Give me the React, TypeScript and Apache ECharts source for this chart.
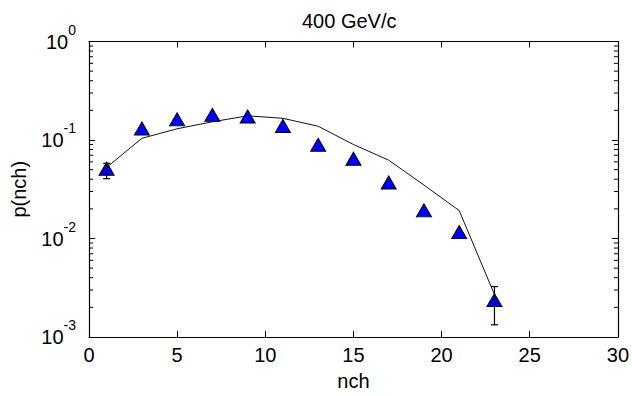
import React, { useEffect, useRef } from "react";
import * as echarts from "echarts";

const nch = [1, 3, 5, 7, 9, 11, 13, 15, 17, 19, 21, 23];
const pData = [0.051, 0.131, 0.162, 0.18, 0.173, 0.139, 0.0895, 0.0646, 0.037, 0.0193, 0.0116, 0.00237];
const modelX = [1, 3, 5, 7, 9, 11, 13, 15, 17, 19, 21, 23];
const modelY = [0.0527, 0.104, 0.13, 0.153, 0.176, 0.166, 0.138, 0.09, 0.0624, 0.0349, 0.0192, 0.0027];
const errX = [1, 23];
const errLow = [0.0405, 0.00133];
const errHigh = [0.058, 0.00325];
const yDecades = [0.001, 0.01, 0.1];
const minorMultipliers = [2, 3, 4, 5, 6, 7, 8, 9];

const FONT = "Liberation Sans, Arial, sans-serif";

export default function App() {
  const ref = useRef<HTMLDivElement>(null);
  useEffect(() => {
    if (!ref.current) return;
    const chart = echarts.init(ref.current, undefined, { renderer: "svg" });
    const minorVals: number[][] = [];
    yDecades.forEach((d) => minorMultipliers.forEach((m) => minorVals.push([0, d * m])));

    const axisCommon = {
      type: "value",
      min: 0,
      max: 30,
      interval: 5,
      axisLine: { show: true, onZero: false, lineStyle: { color: "#000", width: 1.2 } },
      axisTick: { show: true, inside: true, length: 6, lineStyle: { color: "#000" } },
      splitLine: { show: false },
    };
    const yCommon = {
      type: "log",
      logBase: 10,
      min: 0.001,
      max: 1,
      axisLine: { show: true, onZero: false, lineStyle: { color: "#000", width: 1.2 } },
      axisTick: { show: true, inside: true, length: 6, lineStyle: { color: "#000" } },
      splitLine: { show: false },
      minorTick: { show: false },
    };

    chart.setOption({
      animation: false,
      title: {
        text: "400 GeV/c",
        left: 297,
        top: 6,
        textStyle: { fontSize: 20, fontWeight: "normal", color: "#000", fontFamily: FONT },
      },
      grid: { left: 89, right: 10, top: 41.5, bottom: 57, containLabel: false },
      xAxis: [
        {
          ...axisCommon,
          position: "bottom",
          name: "nch",
          nameLocation: "middle",
          nameGap: 34,
          nameTextStyle: { fontSize: 20, color: "#000", fontFamily: FONT },
          axisLabel: { fontSize: 20, color: "#000", margin: 8, fontFamily: FONT },
        },
        { ...axisCommon, position: "top", axisLabel: { show: false } },
      ],
      yAxis: [
        {
          ...yCommon,
          position: "left",
          name: "p(nch)",
          nameLocation: "middle",
          nameGap: 60,
          nameRotate: 90,
          nameTextStyle: { fontSize: 20, color: "#000", fontFamily: FONT },
          axisLabel: {
            margin: 13,
            color: "#000",
            fontFamily: FONT,
            formatter: (v: number) => `{b|10}{s|${Math.round(Math.log10(v))}}`,
            rich: {
              b: { fontSize: 20, lineHeight: 38, color: "#000", fontFamily: FONT },
              s: { fontSize: 14, lineHeight: 14, verticalAlign: "top", color: "#000", fontFamily: FONT },
            },
          },
        },
        { ...yCommon, position: "right", axisLabel: { show: false } },
      ],
      series: [
        {
          type: "line",
          data: modelX.map((x, i) => [x, modelY[i]]),
          symbol: "none",
          lineStyle: { color: "#111", width: 1 },
          z: 2,
        },
        {
          type: "scatter",
          data: nch.map((x, i) => [x, pData[i]]),
          symbol: "triangle",
          symbolSize: [15, 13],
          itemStyle: { color: "#0000ff", borderColor: "#000", borderWidth: 1, opacity: 1 },
          z: 3,
        },
        {
          type: "custom",
          data: errX.map((x, i) => [x, errLow[i], errHigh[i]]),
          encode: { x: 0, y: [1, 2] },
          z: 4,
          renderItem: (params: any, api: any) => {
            const x = api.value(0);
            const lo = api.coord([x, api.value(1)]);
            const hi = api.coord([x, api.value(2)]);
            const w = 3.5;
            const st = { stroke: "#000", lineWidth: 1.2 };
            return {
              type: "group",
              children: [
                { type: "line", shape: { x1: lo[0], y1: lo[1], x2: hi[0], y2: hi[1] }, style: st },
                { type: "line", shape: { x1: lo[0] - w, y1: lo[1], x2: lo[0] + w, y2: lo[1] }, style: st },
                { type: "line", shape: { x1: hi[0] - w, y1: hi[1], x2: hi[0] + w, y2: hi[1] }, style: st },
              ],
            };
          },
        },
        {
          type: "custom",
          data: minorVals,
          encode: { x: 0, y: 1 },
          z: 1,
          silent: true,
          renderItem: (params: any, api: any) => {
            const v = api.value(1);
            const l = api.coord([0, v]);
            const r = api.coord([30, v]);
            const len = 4;
            const st = { stroke: "#000", lineWidth: 1 };
            return {
              type: "group",
              children: [
                { type: "line", shape: { x1: l[0], y1: l[1], x2: l[0] + len, y2: l[1] }, style: st },
                { type: "line", shape: { x1: r[0] - len, y1: r[1], x2: r[0], y2: r[1] }, style: st },
              ],
            };
          },
        },
      ],
    });
    return () => chart.dispose();
  }, []);
  return (
    <div
      ref={ref}
      style={{ position: "absolute", left: 0, top: 0, width: 632, height: 396, background: "#fff" }}
    />
  );
}
